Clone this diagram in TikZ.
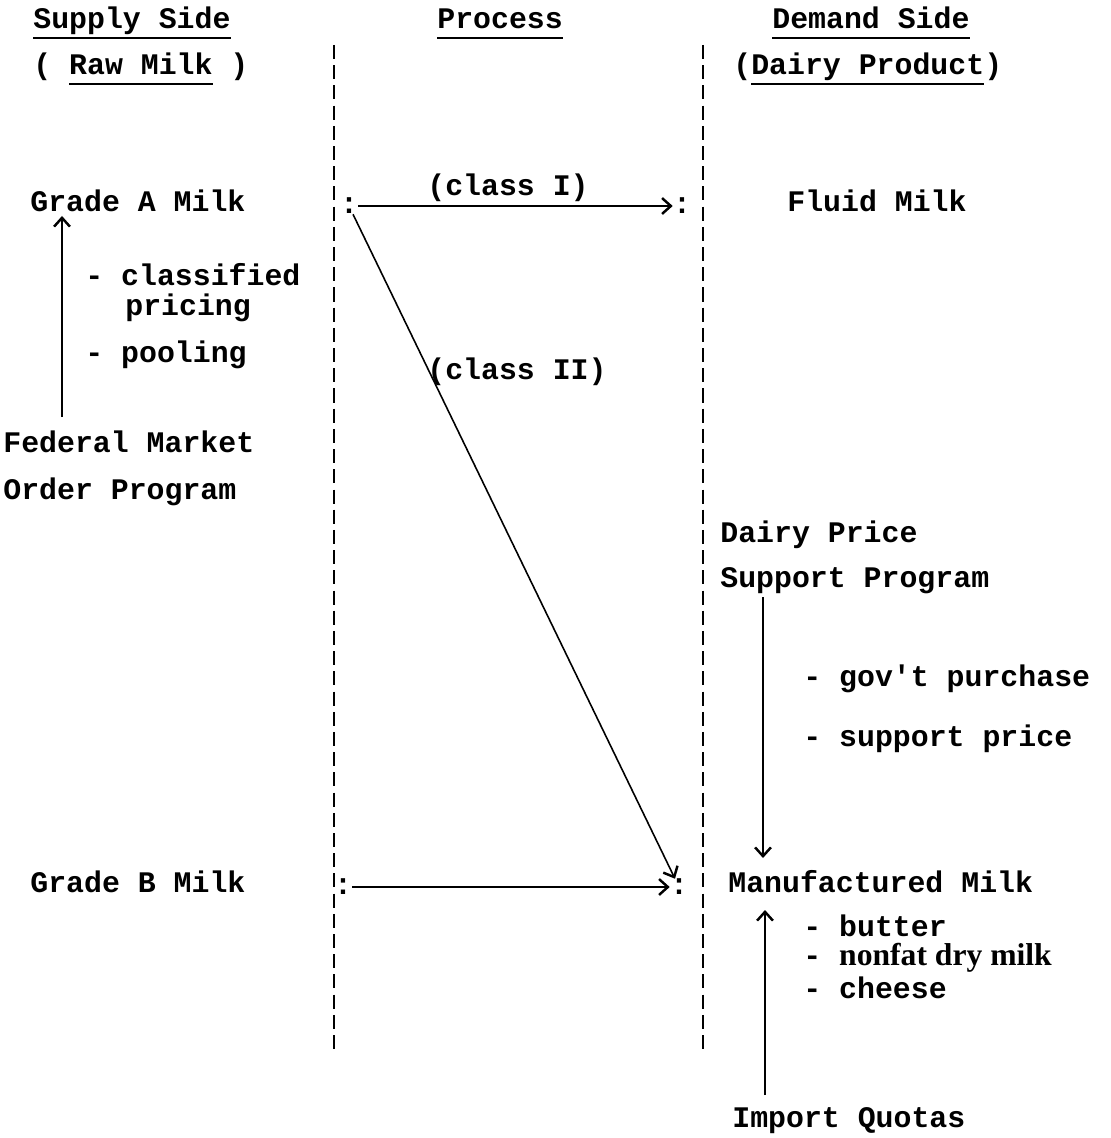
\documentclass[tikz,border=0pt]{standalone}
\usepackage{fontspec}
\setmainfont{Liberation Serif}
\setmonofont{Liberation Mono}
\usetikzlibrary{arrows.meta}
\newcommand{\ul}[1]{\leavevmode\setbox0\hbox{#1}\rlap{\rule[-5.5pt]{\wd0}{1.1pt}}\box0\relax}

\begin{document}
\begin{tikzpicture}[x=0.02cm,y=-0.02cm,
    txt/.style={anchor=base west,inner sep=0pt,font=\ttfamily\bfseries\fontsize{17}{20}\selectfont},
    colon/.style={inner sep=0pt,font=\ttfamily\bfseries\fontsize{17}{20}\selectfont},
    divider/.style={line width=1.6pt,dash pattern=on 8pt off 3.5pt},
    flow/.style={line width=1.4pt,-{Straight Barb[length=5pt,width=9pt,line width=1.4pt]}}]
  \useasboundingbox (0,0) rectangle (1110,1138);
  \path
    (33,29) node[txt] (supply) {\ul{Supply Side}}
    (33,75) node[txt] (rawmilk) {( \ul{Raw Milk} )}
    (437,29) node[txt] (process) {\ul{Process}}
    (772,29) node[txt] (demand) {\ul{Demand Side}}
    (733,75) node[txt] (dairyprod) {(\ul{Dairy Product})}
    (30,212) node[txt] (gradea) {Grade A Milk}
    (85,286) node[txt] (classified) {- classified}
    (125,316) node[txt] (pricing) {pricing}
    (85,362) node[txt] (pooling) {- pooling}
    (3,452) node[txt] (fedmkt) {Federal Market}
    (3,499) node[txt] (order) {Order Program}
    (427,196) node[txt] (classone) {(class I)}
    (427,379) node[txt] (classtwo) {(class II)}
    (787,212) node[txt] (fluid) {Fluid Milk}
    (720,542) node[txt] (dairyprice) {Dairy Price}
    (720,587) node[txt] (support) {Support Program}
    (803,686) node[txt] (govt) {- gov't purchase}
    (803,746) node[txt] (suppprice) {- support price}
    (30,892) node[txt] (gradeb) {Grade B Milk}
    (728,892) node[txt] (manuf) {Manufactured Milk}
    (803,936) node[txt] (butter) {- butter}
    (803,965) node[txt] (nonfat) {- {\rmfamily\fontsize{18}{20}\selectfont nonfat dry milk}}
    (803,998) node[txt] (cheese) {- cheese}
    (732,1127) node[txt] (quotas) {Import Quotas}
    (349,206) node[colon] (c1) {:}
    (682,206) node[colon] (c2) {:}
    (343,887) node[colon] (c3) {:}
    (679,887) node[colon] (c4) {:};
  \coordinate (divatop) at (334,45);
  \coordinate (divabot) at (334,1050);
  \coordinate (divbtop) at (703,45);
  \coordinate (divbbot) at (703,1050);
  \coordinate (fedarr) at (62,417);
  \coordinate (gradeaarr) at (62,216);
  \coordinate (supparr) at (763,597);
  \coordinate (manufarr) at (763,858);
  \coordinate (quotaarr) at (765,1095);
  \coordinate (manufbot) at (765,910);
  \begin{scope}
    \draw[divider] (divatop) -- (divabot);
    \draw[divider] (divbtop) -- (divbbot);
    \draw[flow] (c1) -- (c2);
    \draw[flow,line width=0.9pt] (c1) -- (c4);
    \draw[flow] (c3) -- (c4);
    \draw[flow] (fedarr) -- (gradeaarr);
    \draw[flow] (supparr) -- (manufarr);
    \draw[flow] (quotaarr) -- (manufbot);
  \end{scope}
\end{tikzpicture}
\end{document}
